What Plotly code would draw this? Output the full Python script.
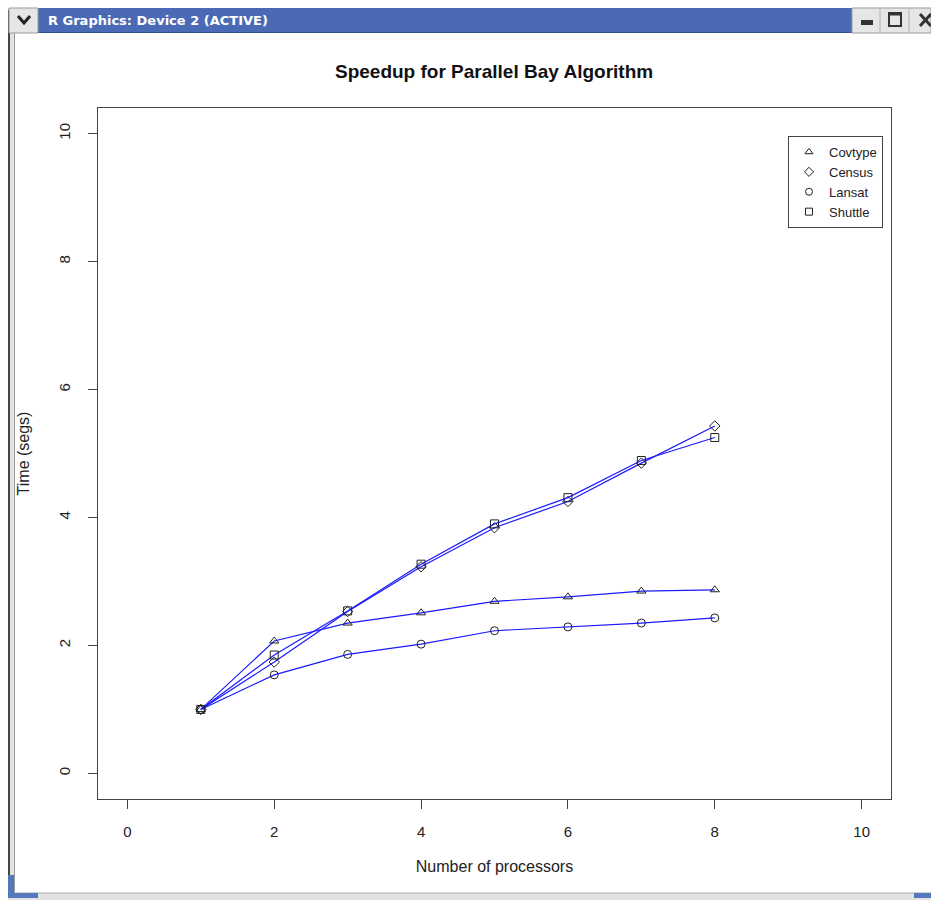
import plotly.graph_objects as go

# ---- data ----
processors = [1, 2, 3, 4, 5, 6, 7, 8]
covtype = [1.0, 2.07, 2.35, 2.51, 2.69, 2.76, 2.85, 2.87]
census = [1.0, 1.74, 2.53, 3.23, 3.84, 4.25, 4.85, 5.43]
lansat = [1.0, 1.54, 1.86, 2.02, 2.23, 2.29, 2.35, 2.43]
shuttle = [1.0, 1.85, 2.54, 3.27, 3.90, 4.31, 4.89, 5.25]
series_names = ["Covtype", "Census", "Lansat", "Shuttle"]
tick_vals = [0, 2, 4, 6, 8, 10]

W, H = 931, 900
PL, PR, PT, PB = 98, 891, 108, 799


def px(x):
    return (x - PL) / (PR - PL)


def py(y):
    return (PB - y) / (PB - PT)


FONT = "Liberation Sans, Arial, Helvetica, sans-serif"
symbols = ["triangle-up-open", "diamond-open", "circle-open", "square-open"]
values = [covtype, census, lansat, shuttle]

fig = go.Figure()
for name, vals, sym in zip(series_names, values, symbols):
    fig.add_trace(go.Scatter(
        x=processors, y=vals, mode="lines+markers", name=name, showlegend=False,
        line=dict(color="#1a1aff", width=1.2),
        marker=dict(symbol=sym, size=8, color="#222", line=dict(width=1, color="#222")),
    ))
for name, sym in zip(series_names, symbols):
    fig.add_trace(go.Scatter(
        x=[None], y=[None], mode="markers", name=name,
        marker=dict(symbol=sym, size=7, color="#222", line=dict(width=1, color="#222")),
    ))

axis_common = dict(
    range=[-0.4, 10.4], tickvals=tick_vals, ticktext=[str(v) for v in tick_vals],
    showgrid=False, zeroline=False, showline=True, mirror=True,
    linecolor="#444", linewidth=1, ticks="outside", ticklen=9, tickwidth=1,
    tickcolor="#444", tickfont=dict(family=FONT, size=15, color="#222"),
)

fig.update_layout(
    width=W, height=H, autosize=False,
    margin=dict(l=PL, r=W - PR, t=PT, b=H - PB),
    paper_bgcolor="white", plot_bgcolor="white",
    font=dict(family=FONT, color="#222"),
    xaxis=dict(**axis_common, ticklabelstandoff=10,
               title=dict(text="Number of processors", standoff=21,
                          font=dict(family=FONT, size=16, color="#222"))),
    yaxis=dict(**axis_common, tickangle=-90, ticklabelstandoff=12,
               title=dict(text="Time (segs)", standoff=22,
                          font=dict(family=FONT, size=16, color="#222"))),
    legend=dict(x=px(788), y=py(136), xanchor="left", yanchor="top",
                bordercolor="#444", borderwidth=1, bgcolor="white",
                font=dict(family=FONT, size=13, color="#222"),
                itemsizing="trace", tracegroupgap=0,
                entrywidth=60, entrywidthmode="pixels"),
    annotations=[
        dict(text="<b>Speedup for Parallel Bay Algorithm</b>", xref="paper", yref="paper",
             x=px(494), y=py(72), xanchor="center", yanchor="middle", showarrow=False,
             font=dict(family=FONT, size=19, color="#111")),
        dict(text="<b>R Graphics: Device 2 (ACTIVE)</b>", xref="paper", yref="paper",
             x=px(46), y=py(20), xanchor="left", yanchor="middle", showarrow=False,
             font=dict(family="DejaVu Sans", size=13, color="white")),
    ],
)

# ---- window chrome ----
def rect(x0, y0, x1, y1, fill, line=None, lw=0):
    return dict(type="rect", xref="paper", yref="paper", layer="above",
                x0=px(x0), x1=px(x1), y0=py(y0), y1=py(y1), fillcolor=fill,
                line=dict(color=line or fill, width=lw))


def seg(x0, y0, x1, y1, color, w):
    return dict(type="line", xref="paper", yref="paper", layer="above",
                x0=px(x0), x1=px(x1), y0=py(y0), y1=py(y1), line=dict(color=color, width=w))


shapes = [
    rect(8, 8, 15, 898, "#e2e2e2"),
    seg(9, 10, 9, 898, "#444", 2),
    seg(14.5, 33, 14.5, 893, "#9a9a9a", 1),
    rect(8, 893, 931, 900, "#e2e2e2"),
    seg(14, 893, 931, 893, "#aaaaaa", 1),
    rect(8, 875, 14, 898, "#5578bd"),
    rect(8, 893, 38, 898, "#5578bd"),
    rect(914, 893, 931, 898, "#5578bd"),
    rect(38, 8, 852, 33, "#4a6ab6"),
    seg(38, 32.5, 852, 32.5, "#2f4f96", 1),
    rect(9, 8, 38, 33, "#e6e6e6", "#9a9a9a", 1),
    rect(852, 8, 931, 33, "#e6e6e6", "#9a9a9a", 1),
    dict(type="path", xref="paper", yref="paper", layer="above",
         path=f"M {px(18)} {py(16)} L {px(24)} {py(23)} L {px(30)} {py(16)}",
         line=dict(color="#222", width=3)),
    seg(880, 9, 880, 32, "#b0b0b0", 1),
    seg(909, 9, 909, 32, "#b0b0b0", 1),
    rect(861, 20, 873, 25, "#333"),
    rect(889, 13, 901, 26, "rgba(0,0,0,0)", "#333", 2),
    seg(889, 14, 901, 14, "#333", 3),
    seg(920, 14, 931, 26, "#333", 3),
    seg(920, 26, 931, 14, "#333", 3),
]
fig.update_layout(shapes=shapes)

fig.write_html("out.html")
